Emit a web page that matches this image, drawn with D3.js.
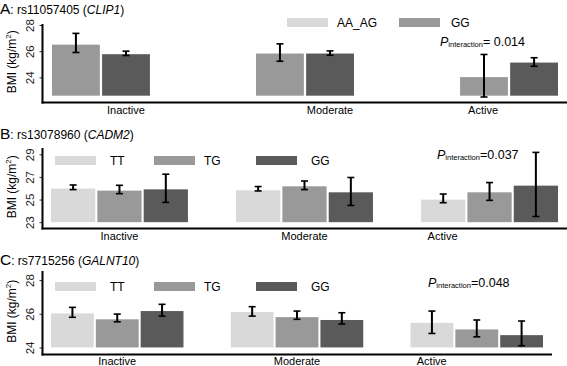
<!DOCTYPE html>
<html>
<head>
<meta charset="utf-8">
<script src="https://cdn.jsdelivr.net/npm/d3@7"></script>
<style>
  body { margin: 0; background: #fff; }
  svg { font-family: "Liberation Sans", Arial, sans-serif; }
</style>
</head>
<body>
<div id="chart"></div>
<script>
// activity levels shared by the three panels
var activity = ["Inactive", "Moderate", "Active"];

// A: rs11057405 (CLIP1)
var genoA = ["AA_AG", "GG"];
var meanA = [[26.5, 25.77], [25.82, 25.82], [24.02, 25.13]];
var lowA  = [[25.9, 25.67], [25.23, 25.69], [22.5, 24.85]];
var highA = [[27.36, 26.0], [26.56, 26.02], [25.75, 25.5]];
var ticksA = [24, 26, 28];

// B: rs13078960 (CADM2)
var genoB = ["TT", "TG", "GG"];
var meanB = [[25.97, 25.79, 25.9], [25.82, 26.17, 25.64], [24.99, 25.64, 26.23]];
var lowB  = [[25.88, 25.52, 24.75], [25.76, 25.88, 24.48], [24.72, 24.93, 23.5]];
var highB = [[26.29, 26.26, 27.24], [26.15, 26.64, 26.95], [25.49, 26.5, 29.17]];
var ticksB = [23, 25, 27, 29];

// C: rs7715256 (GALNT10)
var genoC = ["TT", "TG", "GG"];
var meanC = [[26.02, 25.67, 26.16], [26.1, 25.8, 25.63], [25.46, 25.07, 24.73]];
var lowC  = [[25.79, 25.52, 25.86], [25.86, 25.67, 25.39], [24.83, 24.63, 24.1]];
var highC = [[26.38, 25.98, 26.56], [26.42, 26.16, 26.06], [26.16, 25.63, 25.57]];
var ticksC = [24, 26, 28];

var pvals = ["= 0.014", "=0.037", "=0.048"];

var light = "#d9d9d9", mid = "#999999", dark = "#5a5a5a";

var panels = [
  { letter: "A", snp: "rs11057405", gene: "CLIP1", geno: genoA, mean: meanA, low: lowA, high: highA, ticks: ticksA,
    barColors: [mid, dark], legColors: [light, mid], p: pvals[0],
    ydom: [22.08, 28], yr: [102.5, 25], base: 22.6, xr: [52, 558], pad: 0.52, axisRight: 567,
    titleY: 14, legY: 18, legX: [287, 399], legTextX: [337, 451], pX: 440, pY: 46, labelY: 114,
    labelShift: [25, 25, -26] },
  { letter: "B", snp: "rs13078960", gene: "CADM2", geno: genoB, mean: meanB, low: lowB, high: highB, ticks: ticksB,
    barColors: [light, mid, dark], legColors: [light, mid, dark], p: pvals[1],
    ydom: [22.44, 29.47], yr: [228.5, 149], base: 23, xr: [51, 558], pad: 0.26, axisRight: 567,
    titleY: 139, legY: 156, legX: [55, 154, 256], legTextX: [110, 204, 311], pX: 437, pY: 159, labelY: 240,
    labelShift: [0, 0, -47] },
  { letter: "C", snp: "rs7715256", gene: "GALNT10", geno: genoC, mean: meanC, low: lowC, high: highC, ticks: ticksC,
    barColors: [light, mid, dark], legColors: [light, mid, dark], p: pvals[2],
    ydom: [23.58, 28.48], yr: [354.5, 272], base: 24, xr: [51, 543], pad: 0.263, axisRight: 552,
    titleY: 265, legY: 282, legX: [55, 154, 256], legTextX: [110, 204, 311], pX: 428, pY: 287, labelY: 365,
    labelShift: [0, 0, -45] }
];

var svg = d3.select("#chart").append("svg")
    .attr("width", 567)
    .attr("height", 366);

panels.forEach(function(pn) {
  var g = svg.append("g");
  var y = d3.scaleLinear().domain(pn.ydom).range(pn.yr);
  var x = d3.scaleBand().domain(activity).range(pn.xr).paddingInner(pn.pad).paddingOuter(0);
  var xi = d3.scaleBand().domain(pn.geno).range([0, x.bandwidth()]).paddingInner(0.045);

  // title
  var t = g.append("text").attr("x", 0).attr("y", pn.titleY).attr("fill", "#000");
  t.append("tspan").attr("font-size", "15.5px").text(pn.letter);
  t.append("tspan").attr("font-size", "12px").text(": " + pn.snp + " (");
  t.append("tspan").attr("font-size", "12px").attr("font-style", "italic").text(pn.gene);
  t.append("tspan").attr("font-size", "12px").text(")");

  // legend
  pn.geno.forEach(function(name, i) {
    g.append("rect").attr("x", pn.legX[i]).attr("y", pn.legY)
      .attr("width", 41).attr("height", 9).attr("fill", pn.legColors[i]);
    g.append("text").attr("x", pn.legTextX[i]).attr("y", pn.legY + 9)
      .attr("font-size", "12px").text(name);
  });

  // bars
  var rows = [];
  activity.forEach(function(a, ai) {
    pn.mean[ai].forEach(function(v, gi) {
      rows.push({ act: a, geno: pn.geno[gi], gi: gi, v: v, lo: pn.low[ai][gi], hi: pn.high[ai][gi] });
    });
  });

  g.selectAll("rect.bar").data(rows).join("rect")
    .attr("class", "bar")
    .attr("x", d => x(d.act) + xi(d.geno))
    .attr("width", xi.bandwidth())
    .attr("y", d => y(d.v))
    .attr("height", d => y(pn.base) - y(d.v))
    .attr("fill", d => pn.barColors[d.gi]);

  // error bars
  var eb = g.selectAll("g.err").data(rows).join("g").attr("class", "err")
    .attr("transform", d => "translate(" + (x(d.act) + xi(d.geno) + xi.bandwidth() / 2) + ",0)");
  eb.append("line").attr("y1", d => y(d.lo)).attr("y2", d => y(d.hi))
    .attr("stroke", "#000").attr("stroke-width", 2);
  eb.append("line").attr("x1", -3.5).attr("x2", 3.5).attr("y1", d => y(d.lo)).attr("y2", d => y(d.lo))
    .attr("stroke", "#000").attr("stroke-width", 1.6);
  eb.append("line").attr("x1", -3.5).attr("x2", 3.5).attr("y1", d => y(d.hi)).attr("y2", d => y(d.hi))
    .attr("stroke", "#000").attr("stroke-width", 1.6);

  // y axis
  var yAxis = g.append("g").attr("transform", "translate(42.5,0)")
    .call(d3.axisLeft(y).tickValues(pn.ticks).tickSize(3).tickFormat(d3.format("d")));
  yAxis.select(".domain").remove();
  yAxis.selectAll(".tick line").attr("stroke", "#333").attr("stroke-width", 1);
  yAxis.selectAll(".tick text")
    .attr("font-size", "11.5px").attr("fill", "#222")
    .attr("x", null).attr("dy", null)
    .attr("text-anchor", "middle")
    .attr("transform", "translate(-9,0) rotate(-90)");

  g.append("line").attr("x1", 42.5).attr("x2", 42.5)
    .attr("y1", y(pn.ydom[1]) - 1).attr("y2", y(pn.ydom[0]) + 1)
    .attr("stroke", "#000").attr("stroke-width", 2);
  g.append("line").attr("x1", 41.5).attr("x2", pn.axisRight)
    .attr("y1", y(pn.ydom[0])).attr("y2", y(pn.ydom[0]))
    .attr("stroke", "#000").attr("stroke-width", 2);

  // y title
  var yc = (y(pn.ydom[0]) + y(pn.ydom[1])) / 2 - 2;
  var yt = g.append("text").attr("transform", "translate(16," + yc + ") rotate(-90)")
    .attr("text-anchor", "middle").attr("font-size", "12px");
  yt.append("tspan").text("BMI (kg/m");
  yt.append("tspan").attr("font-size", "8px").attr("dy", -5).text("2");
  yt.append("tspan").attr("dy", 5).text(")");

  // category labels
  activity.forEach(function(a, ai) {
    g.append("text").attr("x", x(a) + x.bandwidth() / 2 + pn.labelShift[ai]).attr("y", pn.labelY)
      .attr("text-anchor", "middle").attr("font-size", "11px").text(a);
  });

  // interaction p value
  var pt = g.append("text").attr("x", pn.pX).attr("y", pn.pY).attr("font-size", "12.5px").attr("fill", "#000");
  pt.append("tspan").attr("font-style", "italic").text("P");
  pt.append("tspan").attr("font-size", "7.5px").attr("dy", 1).text("interaction");
  pt.append("tspan").attr("dy", -1).text(pn.p);
});
</script>
</body>
</html>
